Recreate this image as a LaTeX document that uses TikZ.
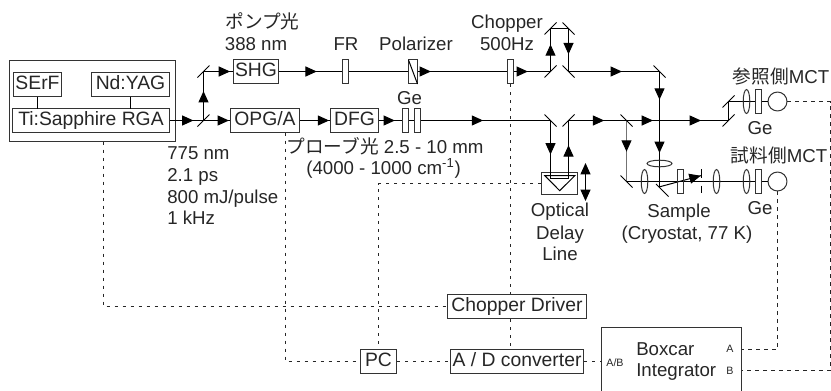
\documentclass[tikz,border=0pt]{standalone}
\usepackage{fontspec}
\setmainfont{Liberation Sans}
\newfontfamily\jpfont{Noto Sans CJK JP}
\usetikzlibrary{arrows.meta,decorations.markings}
\tikzset{
  boxdecorate/.style={shape=rectangle,draw=black!80,line width=0.75pt,inner sep=0pt,
    text height=10.8pt,text depth=2.6pt,text=black!85,font=\fontsize{14.5}{17}\selectfont},
  platedecorate/.style={shape=rectangle,draw=black!80,line width=0.75pt,inner sep=0pt,fill=white},
  labeldecorate/.style={inner sep=0pt,anchor=base,text=black!85,font=\fontsize{14}{16}\selectfont},
  linedecorate/.style={-,line width=0.75pt},
  sensedecorate/.style={-,line width=0.75pt,black!85,dash pattern=on 2.4pt off 3.6pt},
  beamdecorate/.style={linedecorate,postaction={decorate,decoration={markings,
    mark=at position #1 with {\arrow[black]{Triangle[length=8.5pt,width=7.5pt]}}}}}
}
\begin{document}
\begin{tikzpicture}[x=0.75pt,y=-0.75pt]
\path[use as bounding box,clip] (0,0) rectangle (831,390);
%% beam turning points
\foreach \nodename/\x/\y in {bsplit/203.5/120.5, mshg/203.5/71.5, mupa/550.5/71.5, mupb/550.5/28.5,
  mdnb/568.5/28.5, mdna/568.5/71.5, msample/659.5/71.5, mfocus/659.5/186.5, mdla/550.5/120.5,
  dla/550.5/178.5, dlb/568.5/178.5, mdlb/568.5/120.5, bsprobe/626.5/120.5, mprobe/626.5/181.5,
  mrefa/728.5/120.5, mrefb/728.5/101.5, kick/660/186.7, kicktip/701.5/175.5,
  tapa/103.5/141.5, tapb/285.5/132.5, portab/601.5/361.5, porta/741.5/349.5, portb/741.5/370.5,
  bend/830.5/370.5, delaya/585.5/163, delayb/585.5/201} {
  \coordinate (\nodename) at (\x,\y);
}
%% boxes
\foreach \nodename/\x/\y/\boxw/\boxh/\boxtext in {serf/37.5/84.5/48/24/SErF,
  yag/130.5/84.5/78/24/Nd:YAG, rga/91/120.5/157/24/{Ti:Sapphire RGA\hspace{7.5pt}},
  shg/256/71.5/45/24/SHG, opg/265/120.5/69/24/{OPG/A}, dfg/354.5/120.5/48/24/DFG,
  driver/517/306.5/139/24/Chopper Driver, pc/378.5/361.5/36/24/PC,
  adc/517/361.5/133/24/{A / D converter}} {
  \node (\nodename) at (\x,\y) [boxdecorate,minimum width=\boxw*0.75pt,minimum height=\boxh*0.75pt] {\boxtext};
}
\node (laser) at (92.5,101) [platedecorate,fill=none,minimum width=124.5pt,minimum height=60.75pt] {};
\node (boxcar) at (671.5,365.5) [platedecorate,fill=none,minimum width=105pt,minimum height=57pt] {};
\node (prism) at (559.5,183.5) [platedecorate,fill=none,minimum width=27pt,minimum height=16.5pt] {};
\node (deta) at (777.5,101.5) [shape=circle,draw=black!80,line width=0.75pt,inner sep=0pt,minimum size=14.2pt] {};
\node (detb) at (777.5,181.5) [shape=circle,draw=black!80,line width=0.75pt,inner sep=0pt,minimum size=14.2pt] {};
%% plates
\foreach \nodename/\x/\y/\boxw in {fr/345.5/71.5/6, pol/413/71.5/9, chop/510.5/71.5/6, gea/405.5/120.5/6,
  geb/417.5/120.5/6, gec/758.5/101.5/6, ged/758.5/181.5/6} {
  \node (\nodename) at (\x,\y) [platedecorate,minimum width=\boxw*0.75pt,minimum height=18pt] {};
}
%% beams
\foreach \startnode/\endnode/\tip in {rga/bsplit/0.70, bsplit/opg/0.96, bsplit/mshg/0.6,
  mshg/shg/0.9, shg/fr/0.6, pol/chop/0.145, chop/mupa/0.38, mupa/mupb/0.63, mdnb/mdna/0.6,
  mdna/msample/0.587, opg/dfg/0.97, dfg/gea/0.69,
  geb/mdla/0.48, mdla/dla/0.586, dlb/mdlb/0.574, mdlb/bsprobe/0.616, kick/kicktip/0.98} {
  \draw[beamdecorate=\tip] (\startnode) -- (\endnode);
}
\draw[beamdecorate=0.245,beamdecorate=0.708] (msample) -- (mfocus);
\draw[beamdecorate=0.26,beamdecorate=0.73] (bsprobe) -- (mrefa);
\draw[beamdecorate=0.51,black!55] (bsprobe) -- (mprobe);
\draw[linedecorate] (fr) -- (pol);
\draw[linedecorate] (mupb) -- (mdnb);
\draw[linedecorate] (dla) -- (dlb);
\draw[linedecorate] (gea) -- (geb);
\draw[linedecorate] (mrefa) -- (mrefb);
\draw[linedecorate] (mrefb) -- (gec);
\draw[linedecorate] (gec) -- (deta);
\draw[linedecorate] (mprobe) -- (ged);
\draw[linedecorate] (ged) -- (detb);
\draw[linedecorate] (37.5,96.5) -- (37.5,108.5);
\draw[linedecorate] (130.5,96.5) -- (130.5,108.5);
\draw[linedecorate,{Triangle[length=8.5pt,width=7.5pt]}-{Triangle[length=8.5pt,width=7.5pt]}] (delaya) -- (delayb);
%% mirrors
\foreach \nodename in {bsplit,mshg,mupa,mupb,mdlb,mrefa,mrefb} {
  \draw[linedecorate] ([shift={(-6,6)}]\nodename) -- ([shift={(6,-6)}]\nodename);
}
\foreach \nodename in {mdnb,mdna,msample,mdla,bsprobe,mprobe} {
  \draw[linedecorate] ([shift={(-6,-6)}]\nodename) -- ([shift={(6,6)}]\nodename);
}
\draw[linedecorate] ([shift={(-3.5,-2.5)}]mfocus) -- ([shift={(9,10)}]mfocus);
%% lenses
\foreach \x/\y in {644.5/181.5, 716.5/181.5, 746.5/181.5, 746.5/101.5} {
  \draw[line width=0.75pt,black!80] (\x,\y) ellipse [x radius=3.3,y radius=12];
}
\draw[line width=0.75pt,black!80] (659.5,163.5) ellipse [x radius=12.5,y radius=3.3];
%% prism, polarizer, sample, aperture
\draw[linedecorate] (544.7,175.5) -- (575,175.5) -- (559.7,190.7) -- cycle;
\draw[linedecorate] (408.5,60) -- (417.5,84);
\draw[platedecorate,fill=none] (677.5,169.5) rectangle (683.5,193.5);
\draw[linedecorate] (701.5,169.3) -- (701.5,178.3);
\draw[linedecorate] (701.5,185.7) -- (701.5,193.3);
%% signal lines
\draw[sensedecorate] (tapa) |- (driver.west);
\draw[sensedecorate] (tapb) |- (pc.west);
\draw[sensedecorate] (chop.south) -- (chop.south |- driver.north);
\draw[sensedecorate] (chop.south |- driver.south) -- (chop.south |- adc.north);
\draw[sensedecorate] (prism.west) -| (pc.north);
\draw[sensedecorate] (pc.east) -- (adc.west);
\draw[sensedecorate] (adc.east) -- (portab);
\draw[sensedecorate] (detb.south) |- (porta);
\draw[sensedecorate] (deta.east) -| (bend) -- (portb);
%% labels
\foreach \nodename/\x/\y/\labeltext in {lpumpa/262.5/28/{\jpfont ポンプ光}, lpumpb/256/50/388 nm,
  lfr/346/50/FR, lpol/416/50/Polarizer, lchopa/507/28/Chopper, lchopb/507/50/500Hz,
  lgea/409.5/104/Ge, lprobea/385/153/{\jpfont プローブ光\rmfamily\ 2.5 - 10 mm},
  lprobeb/383.5/174/{(4000 - 1000 cm\textsuperscript{-1})},
  ldelaya/560/216.7/Optical, ldelayb/560/239/Delay, ldelayc/560/260/Line,
  lsample/679/217/Sample, lcryo/687/239/{(Cryostat, 77 K)},
  lgeb/760/134/Ge, lgec/760/214/Ge,
  lref/781/83/{\jpfont 参照側\rmfamily MCT}, lsmp/779/162.7/{\jpfont 試料側\rmfamily MCT}} {
  \node (\nodename) at (\x,\y) [labeldecorate] {\labeltext};
}
\foreach \nodename/\y/\labeltext in {lrepa/159.5/775 nm, lrepb/181/2.1 ps, lrepc/203/{800 mJ/pulse}, lrepd/224/1 kHz} {
  \node (\nodename) at (167,\y) [labeldecorate,anchor=base west] {\labeltext};
}
\node (lboxa) at (636,355) [labeldecorate,anchor=base west] {Boxcar};
\node (lboxb) at (636,376) [labeldecorate,anchor=base west] {Integrator};
\node (lporta) at (730,352.5) [labeldecorate,font=\fontsize{8}{9}\selectfont] {A};
\node (lportb) at (730,374.5) [labeldecorate,font=\fontsize{8}{9}\selectfont] {B};
\node (lportab) at (615,366) [labeldecorate,font=\fontsize{8}{9}\selectfont] {A/B};
\end{tikzpicture}
\end{document}
